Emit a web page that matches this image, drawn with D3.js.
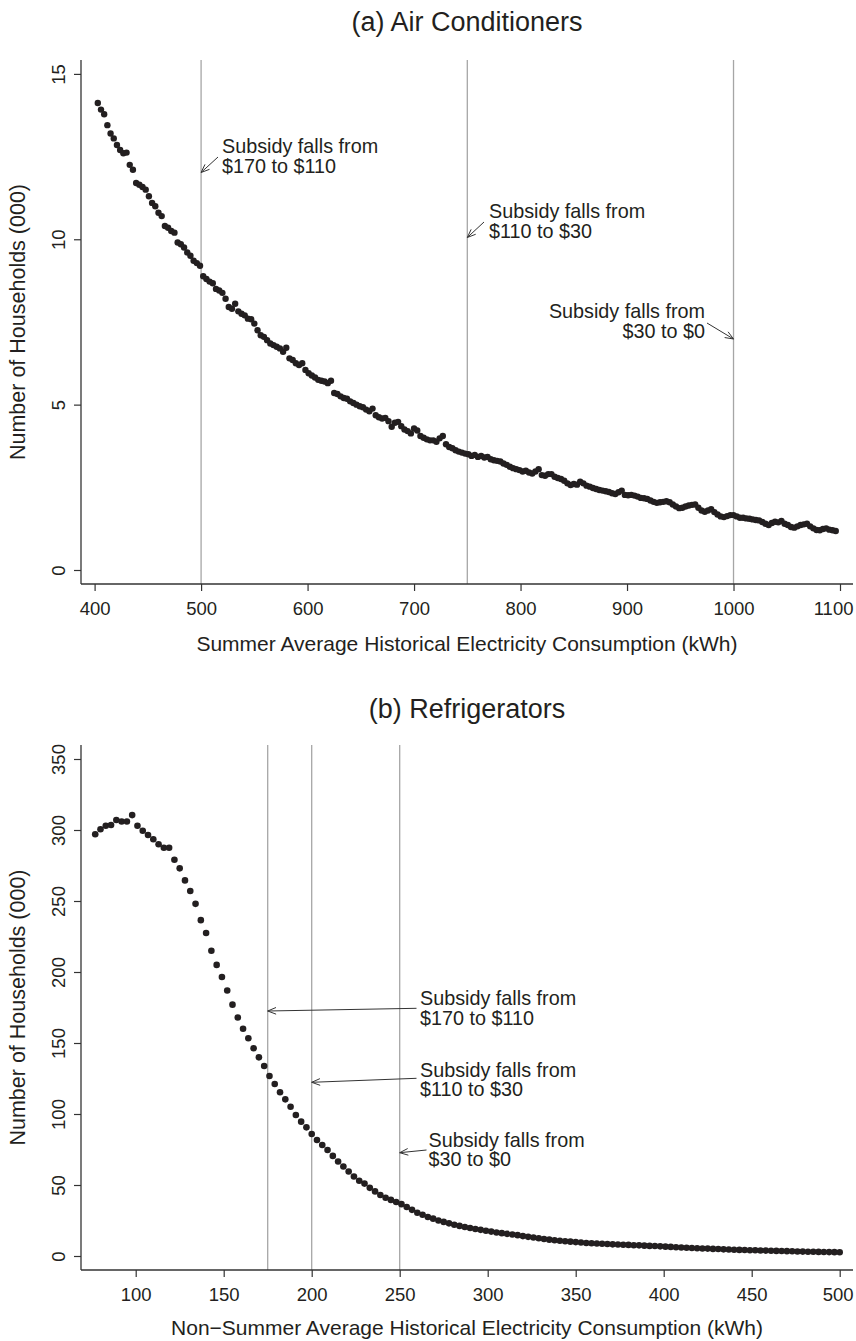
<!DOCTYPE html>
<html><head><meta charset="utf-8">
<script src="https://cdn.jsdelivr.net/npm/d3@7"></script>
<style>
body{margin:0;background:#fff}
svg{display:block}
text{font-family:"Liberation Sans",Arial,Helvetica,sans-serif;fill:#231f20}
</style>
</head><body>
<svg id="c" width="856" height="1341"></svg>
<script>
// ---------- Panel (a): Air Conditioners ----------
const acTitle = ["(a)", "Air Conditioners"];
const acXTitle = "Summer Average Historical Electricity Consumption (kWh)";
const acStart = 403, acStep = 3;   // kWh bins
const acValues = [
 14.12,13.92,13.78,13.45,13.20,13.05,12.85,12.70,12.60,12.62,
 12.25,12.10,11.70,11.65,11.58,11.50,11.30,11.10,11.00,10.80,
 10.70,10.40,10.35,10.25,10.20,9.90,9.85,9.75,9.60,9.50,
 9.35,9.28,9.20,8.88,8.80,8.72,8.67,8.50,8.45,8.38,
 8.20,7.95,7.90,8.05,7.82,7.75,7.70,7.60,7.58,7.45,
 7.25,7.10,7.05,6.95,6.85,6.80,6.75,6.70,6.60,6.72,
 6.40,6.35,6.25,6.20,6.25,6.05,5.95,5.88,5.82,5.75,
 5.72,5.70,5.65,5.72,5.35,5.32,5.25,5.20,5.18,5.10,
 5.05,5.00,4.95,4.92,4.85,4.80,4.88,4.68,4.62,4.58,
 4.60,4.50,4.33,4.45,4.48,4.35,4.25,4.20,4.13,4.28,
 4.22,4.05,4.00,3.95,3.92,3.92,3.88,3.98,4.05,3.80,
 3.72,3.68,3.62,3.58,3.55,3.52,3.50,3.45,3.48,3.42,
 3.45,3.40,3.42,3.35,3.32,3.30,3.28,3.22,3.18,3.12,
 3.08,3.05,3.02,2.98,3.00,2.95,2.92,2.98,3.05,2.87,
 2.85,2.90,2.90,2.82,2.78,2.75,2.70,2.62,2.57,2.60,
 2.58,2.67,2.62,2.55,2.52,2.48,2.45,2.42,2.40,2.38,
 2.36,2.32,2.30,2.35,2.40,2.27,2.26,2.27,2.25,2.22,
 2.18,2.17,2.15,2.10,2.06,2.03,2.05,2.06,2.08,2.05,
 1.98,1.92,1.87,1.88,1.92,1.95,1.97,1.98,1.88,1.80,
 1.76,1.80,1.84,1.75,1.68,1.62,1.60,1.63,1.66,1.66,
 1.62,1.58,1.58,1.56,1.55,1.53,1.51,1.50,1.45,1.40,
 1.36,1.42,1.46,1.44,1.48,1.40,1.36,1.30,1.28,1.32,
 1.36,1.38,1.40,1.32,1.26,1.21,1.20,1.24,1.26,1.22,
 1.20,1.18
];
const acXTicks = [400,500,600,700,800,900,1000,1100];
const acYTicks = [0,5,10,15];
const acThresholds = [500,750,1000];
const acNotes = [
  ["Subsidy falls from","$170 to $110"],
  ["Subsidy falls from","$110 to $30"],
  ["Subsidy falls from","$30 to $0"]
];

// ---------- Panel (b): Refrigerators ----------
const frTitle = ["(b)", "Refrigerators"];
const frXTitle = "Non\u2212Summer Average Historical Electricity Consumption (kWh)";
const frStart = 77, frStep = 3;
const frValues = [
 297,300.5,303,303.5,307,306,306,310.5,303,299.5,
 296.5,293.5,290,287.5,287.5,279,273,264.5,257,248,
 236.5,227.5,215,205,196.5,187,177,168,160,153.3,
 146.3,139.9,133.8,126.8,121.1,115.3,110.3,105.1,99.3,94.6,
 90.6,85.9,81.7,78.2,74.6,70.5,66.5,63,59.5,56,
 53,51,48,45.5,43,41,39.5,38,36.5,34.5,
 32.5,30.5,29,27.5,26.3,25,24,23,22,21.2,
 20.4,19.7,19,18.4,17.8,17.2,16.6,16.1,15.6,15.1,
 14.7,14.0,13.5,13.0,12.5,12.0,11.5,11.1,10.7,10.4,
 10.1,9.8,9.5,9.2,9.0,8.8,8.6,8.4,8.2,8.1,
 7.9,7.8,7.6,7.5,7.3,7.1,7.0,6.8,6.6,6.4,
 6.2,6.0,5.8,5.6,5.5,5.3,5.2,5.0,4.9,4.7,
 4.6,4.4,4.3,4.2,4.1,4.0,3.9,3.8,3.7,3.6,
 3.5,3.4,3.3,3.2,3.1,3.0,2.95,2.9,2.8,2.75,
 2.7,2.6
];
const frXTicks = [100,150,200,250,300,350,400,450,500];
const frYTicks = [0,50,100,150,200,250,300,350];
const frThresholds = [175,200,250];
const frNotes = [
  ["Subsidy falls from","$170 to $110"],
  ["Subsidy falls from","$110 to $30"],
  ["Subsidy falls from","$30 to $0"]
];

const yTitle = "Number of Households (000)";

// ---------- drawing ----------
const svg = d3.select("#c");
const INK = "#231f20";

function arrow(g, x1, y1, x2, y2) {
  g.append("line").attr("x1",x1).attr("y1",y1).attr("x2",x2).attr("y2",y2)
    .attr("stroke","#333").attr("stroke-width",1);
  const a = Math.atan2(y2-y1, x2-x1), L = 9, s = 0.38;
  [a+s, a-s].forEach(t => {
    g.append("line").attr("x1",x2).attr("y1",y2)
      .attr("x2",x2 - L*Math.cos(t)).attr("y2",y2 - L*Math.sin(t))
      .attr("stroke","#333").attr("stroke-width",1);
  });
}

function panel(o) {
  const g = svg.append("g");
  const x = d3.scaleLinear().domain(o.xDom).range(o.xRange);
  const y = d3.scaleLinear().domain(o.yDom).range(o.yRange);
  const data = o.values.map((v,i) => ({k: o.start + i*o.step, v}));

  // title
  const t = g.append("text").attr("x", (o.left+o.right)/2).attr("y", o.titleY)
    .attr("text-anchor","middle").style("font-size","27px");
  t.append("tspan").text(o.title[0]);
  t.append("tspan").text(" " + o.title[1]);

  // reference lines
  g.selectAll(".ref").data(o.thresholds).join("line")
    .attr("x1", d => x(d)).attr("x2", d => x(d))
    .attr("y1", o.top).attr("y2", o.axisY)
    .attr("stroke", "#a6a6a6").attr("stroke-width", 1.3);

  // x axis
  const xa = g.append("g").attr("transform", `translate(0,${o.axisY})`)
    .call(d3.axisBottom(x).tickValues(o.xTicks).tickSize(7).tickSizeOuter(0).tickFormat(d3.format("d")));
  xa.select(".domain").remove();
  xa.selectAll(".tick line").attr("stroke", "#333").attr("stroke-width", 1.2);
  xa.selectAll(".tick text").attr("y", 31).attr("dy", 0).style("font-size","18.5px")
    .attr("fill", INK).style("font-family", null);
  // keep the last label inside the graph area
  xa.selectAll(".tick text").filter((d,i,n) => i === n.length-1 && x(d) + 22 > 856)
    .attr("text-anchor","end").attr("x", d => 853 - x(d));
  g.append("line").attr("x1", o.left).attr("x2", o.right).attr("y1", o.axisY).attr("y2", o.axisY)
    .attr("stroke","#333").attr("stroke-width",1.3);

  // y axis
  const ya = g.append("g").attr("transform", `translate(${o.left},0)`)
    .call(d3.axisLeft(y).tickValues(o.yTicks).tickSize(7).tickSizeOuter(0).tickFormat(d3.format("d")));
  ya.select(".domain").remove();
  ya.selectAll(".tick line").attr("stroke", "#333").attr("stroke-width", 1.2);
  ya.selectAll(".tick text").attr("transform","rotate(-90)").attr("x",0).attr("y",-16).attr("dy",0)
    .attr("text-anchor","middle").style("font-size","18.5px").attr("fill", INK).style("font-family", null);
  g.append("line").attr("x1", o.left).attr("x2", o.left).attr("y1", o.top).attr("y2", o.axisY)
    .attr("stroke","#333").attr("stroke-width",1.3);

  // axis titles
  g.append("text").attr("x", (o.left+o.right)/2).attr("y", o.xTitleY)
    .attr("text-anchor","middle").style("font-size","21px").text(o.xTitle);
  g.append("text").attr("transform", `translate(25,${(o.top+o.axisY)/2}) rotate(-90)`)
    .attr("text-anchor","middle").style("font-size","21.5px").text(yTitle);

  // points
  g.selectAll(".pt").data(data).join("circle")
    .attr("cx", d => x(d.k)).attr("cy", d => y(d.v)).attr("r", o.r).attr("fill", INK);

  // annotations
  o.notes.forEach((n, i) => {
    const p = o.notePos[i];
    const tx = g.append("text").attr("x", p.tx).attr("y", p.ty)
      .attr("text-anchor", p.anchor || "start").style("font-size","19.8px");
    tx.append("tspan").attr("x", p.tx).text(n[0]);
    tx.append("tspan").attr("x", p.tx).attr("dy", 19.8).text(n[1]);
    arrow(g, p.ax1, p.ay1, x(o.thresholds[i]), p.ay2);
  });
}

panel({
  title: acTitle, xTitle: acXTitle, values: acValues, start: acStart, step: acStep,
  xDom: [400,1100], xRange: [94.6, 840], yDom: [0,15], yRange: [570, 73.9],
  left: 81, right: 853, top: 60, axisY: 584, titleY: 31, xTitleY: 651,
  xTicks: acXTicks, yTicks: acYTicks, thresholds: acThresholds, notes: acNotes, r: 3.2,
  notePos: [
    {tx: 222, ty: 153, ax1: 218, ay1: 157, ay2: 172.5},
    {tx: 489, ty: 218, ax1: 484, ay1: 222, ay2: 237.5},
    {tx: 705, ty: 318, anchor: "end", ax1: 707, ay1: 323, ay2: 339}
  ]
});

panel({
  title: frTitle, xTitle: frXTitle, values: frValues, start: frStart, step: frStep,
  xDom: [75,500], xRange: [91.7, 839.7], yDom: [0,350], yRange: [1256, 759],
  left: 81, right: 853, top: 745, axisY: 1270, titleY: 718, xTitleY: 1335,
  xTicks: frXTicks, yTicks: frYTicks, thresholds: frThresholds, notes: frNotes, r: 3.3,
  notePos: [
    {tx: 420, ty: 1005, ax1: 416.5, ay1: 1008.3, ay2: 1011},
    {tx: 420, ty: 1076.5, ax1: 416.5, ay1: 1078.3, ay2: 1082.3},
    {tx: 428.5, ty: 1146.5, ax1: 426.5, ay1: 1150, ay2: 1152.7}
  ]
});
</script>
</body></html>
